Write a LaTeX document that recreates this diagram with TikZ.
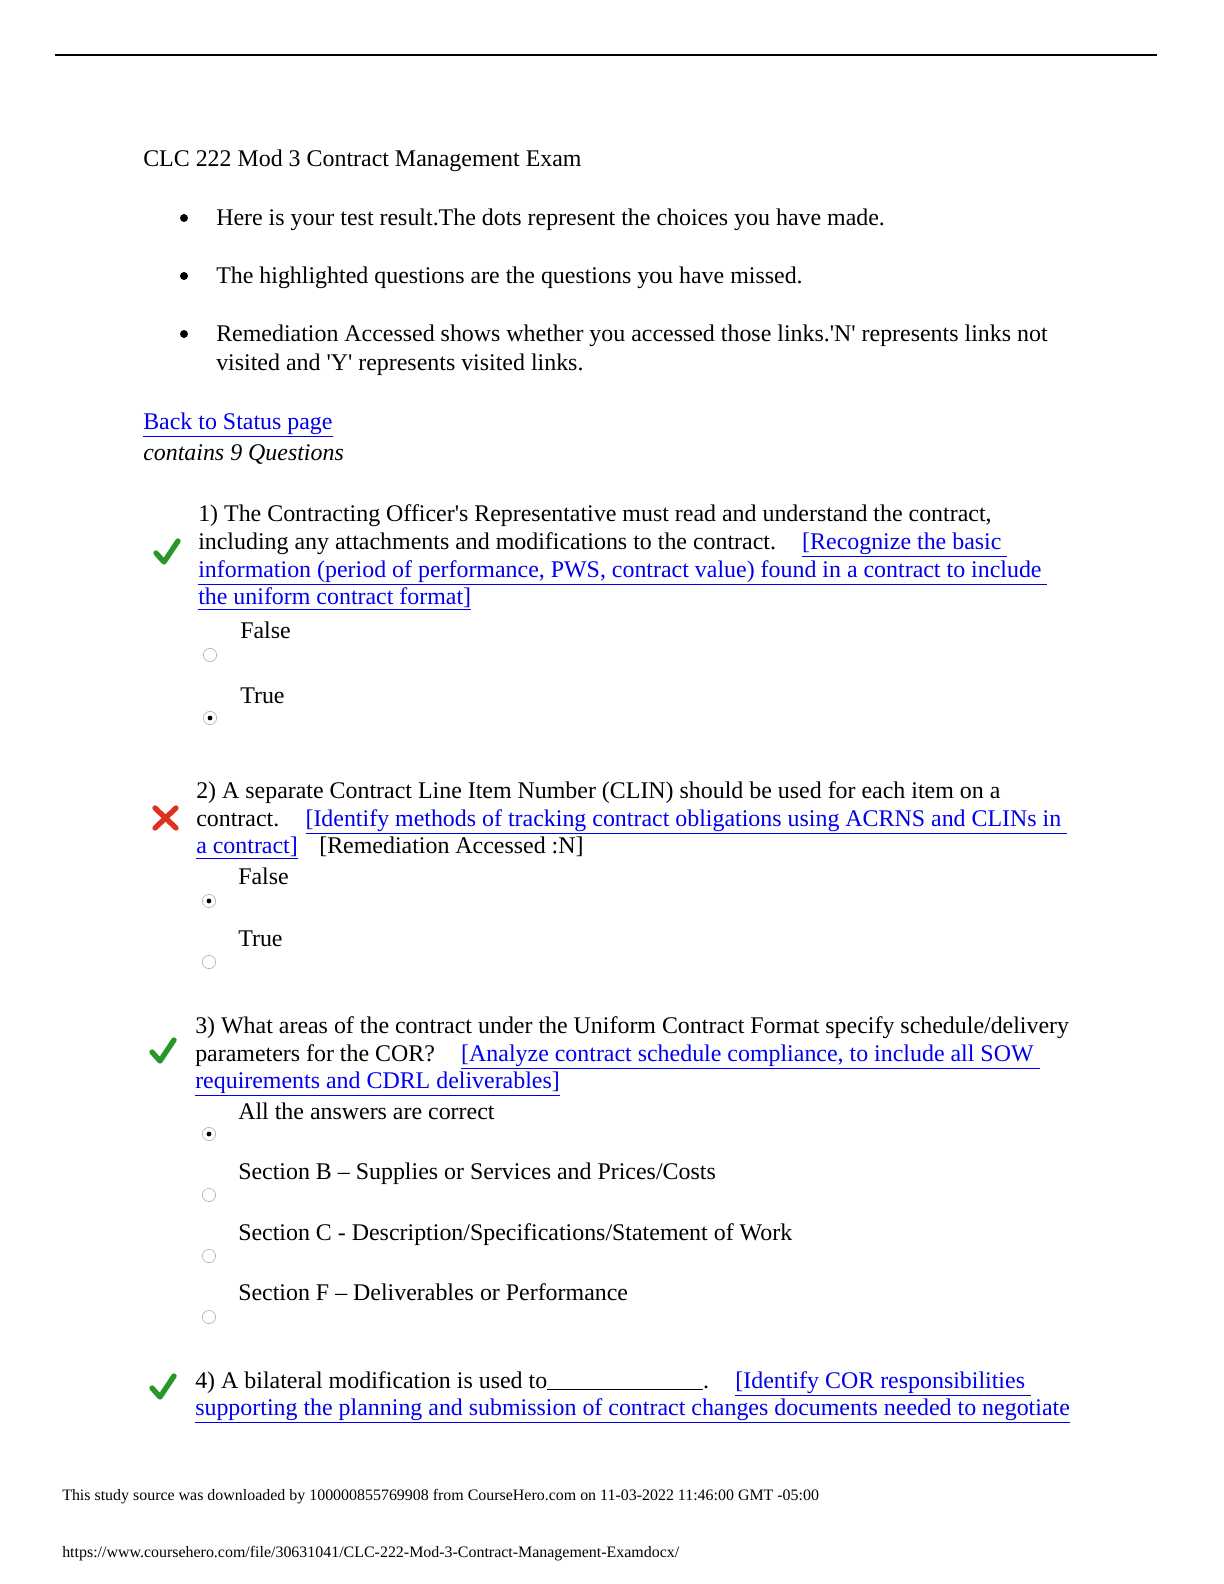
\documentclass[tikz,border=0pt]{standalone}
\usepackage{fontspec}
\setmainfont{Liberation Serif}
\definecolor{lnk}{RGB}{0,0,238}
\definecolor{okg}{RGB}{40,150,40}
\definecolor{bad}{RGB}{220,50,30}
\newcommand{\lk}[1]{{\color{lnk}\underline{#1}}}
\newcommand{\q}{\textquotesingle}
\begin{document}
\begin{tikzpicture}[x=0.75bp,y=-0.75bp,
  tx/.style={anchor=base west,inner sep=0,font=\fontsize{18}{22}\selectfont},
  ft/.style={anchor=base west,inner sep=0,font=\fontsize{12}{14}\selectfont},
  radio/.style={circle,draw=gray!70,fill=white,minimum size=10pt,inner sep=0},
  sel/.style={radio,path picture={\fill[black] (path picture bounding box.center) circle (1.8pt);}},
  check/.style={okg,line width=4pt,line cap=round,line join=round},
  cross/.style={bad,line width=4pt,line cap=round}]
\useasboundingbox (0,0) rectangle (1224,1584);
\fill[white] (0,0) rectangle (1224,1584);
\coordinate (la) at (55,55); \coordinate (lb) at (1157,55);
\draw[line width=0.8pt] (la) -- (lb);
\node[tx] (t) at (143,166) {CLC 222 Mod 3 Contract Management Exam};
\foreach \y/\n in {225/b1,283/b2,341/b3}{\fill (184,\y-7) circle (3pt);}
\node[tx] (b1) at (216,225) {Here is your test result.The dots represent the choices you have made.};
\node[tx] (b2) at (216,283) {The highlighted questions are the questions you have missed.};
\node[tx] (b3) at (216,341) {Remediation Accessed shows whether you accessed those links.\q N\q{} represents links not};
\node[tx] (b3b) at (216,370) {visited and \q Y\q{} represents visited links.};
\node[tx] (back) at (143,429) {\lk{Back to Status page}};
\node[tx] (cont) at (143,460) {\itshape contains 9 Questions};
% Q1
\draw[check] (156,553) -- (164,562) -- (178,541);
\node[tx] (q1a) at (198,521) {1) The Contracting Officer\q s Representative must read and understand the contract,};
\node[tx] (q1b) at (198,549) {including any attachments and modifications to the contract.\hspace{1.1em}\lk{[Recognize the basic }};
\node[tx] (q1c) at (198,577) {\lk{information (period of performance, PWS, contract value) found in a contract to include }};
\node[tx] (q1d) at (198,604) {\lk{the uniform contract format]}};
\node[tx] (q1f) at (240,638) {False};
\node[radio] (r11) at (210,655) {};
\node[tx] (q1t) at (240,703) {True};
\node[sel] (r12) at (210,718) {};
% Q2
\draw[cross] (155,808) -- (176,828) (176,808) -- (155,828);
\node[tx] (q2a) at (196,798) {2) A separate Contract Line Item Number (CLIN) should be used for each item on a};
\node[tx] (q2b) at (196,826) {contract.\hspace{1.1em}\lk{[Identify methods of tracking contract obligations using ACRNS and CLINs in }};
\node[tx] (q2c) at (196,853) {\lk{a contract]}\hspace{0.9em}[Remediation Accessed :N]};
\node[tx] (q2f) at (238,884) {False};
\node[sel] (r21) at (209,901) {};
\node[tx] (q2t) at (238,946) {True};
\node[radio] (r22) at (209,962) {};
% Q3
\draw[check] (152,1052) -- (160,1061) -- (174,1040);
\node[tx] (q3a) at (195,1033) {3) What areas of the contract under the Uniform Contract Format specify schedule/delivery};
\node[tx] (q3b) at (195,1061) {parameters for the COR?\hspace{1.1em}\lk{[Analyze contract schedule compliance, to include all SOW }};
\node[tx] (q3c) at (195,1088) {\lk{requirements and CDRL deliverables]}};
\node[tx] (q3o1) at (238,1119) {All the answers are correct};
\node[sel] (r31) at (209,1134) {};
\node[tx] (q3o2) at (238,1179) {Section B -- Supplies or Services and Prices/Costs};
\node[radio] (r32) at (209,1195) {};
\node[tx] (q3o3) at (238,1240) {Section C - Description/Specifications/Statement of Work};
\node[radio] (r33) at (209,1256) {};
\node[tx] (q3o4) at (238,1300) {Section F -- Deliverables or Performance};
\node[radio] (r34) at (209,1317) {};
% Q4
\draw[check] (152,1388) -- (160,1397) -- (174,1376);
\node[tx] (q4a) at (195,1388) {4) A bilateral modification is used to\rule[-1.5pt]{117bp}{0.6pt}.\hspace{1.1em}\lk{[Identify COR responsibilities }};
\node[tx] (q4b) at (195,1415) {\lk{supporting the planning and submission of contract changes documents needed to negotiate}};
% footer
\node[ft] (f1) at (62,1500) {This study source was downloaded by 100000855769908 from CourseHero.com on 11-03-2022 11:46:00 GMT -05:00};
\node[ft] (f2) at (62,1557) {https://www.coursehero.com/file/30631041/CLC-222-Mod-3-Contract-Management-Examdocx/};
\end{tikzpicture}
\end{document}
